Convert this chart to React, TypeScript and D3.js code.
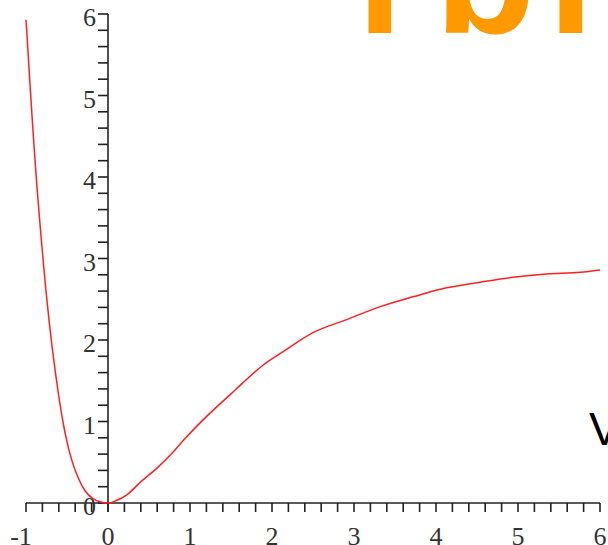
import React, { useEffect, useRef } from 'react';
import * as d3 from 'd3';

// curve points
const rValues = [-1.0, -0.97, -0.95, -0.93, -0.9, -0.87, -0.84, -0.8, -0.76, -0.72, -0.68, -0.64, -0.6, -0.55, -0.5, -0.44, -0.36, -0.28, -0.18, -0.08, 0, 0.1, 0.23, 0.39, 0.61, 0.78, 0.92, 1.2, 1.49, 1.65, 1.89, 2.14, 2.5, 2.91, 3.32, 3.72, 4.13, 4.54, 4.94, 5.35, 5.76, 6.0];
const vValues = [5.93, 5.45, 5.12, 4.8, 4.35, 3.93, 3.55, 3.08, 2.64, 2.25, 1.9, 1.59, 1.31, 1.0, 0.75, 0.52, 0.3, 0.15, 0.05, 0.01, 0, 0.03, 0.1, 0.25, 0.44, 0.61, 0.77, 1.06, 1.33, 1.48, 1.69, 1.86, 2.09, 2.25, 2.41, 2.53, 2.64, 2.71, 2.77, 2.81, 2.83, 2.86];
const xTickLabels = [-1, 0, 1, 2, 3, 4, 5, 6];
const yTickLabels = [0, 1, 2, 3, 4, 5, 6];

const App = () => {
  const svgRef = useRef<SVGSVGElement>(null);

  useEffect(() => {
    const width = 608;
    const height = 545;
    const svg = d3.select(svgRef.current);
    svg.selectAll("*").remove();

    const x = d3.scaleLinear().domain([-1, 6]).range([26, 600]);
    const y = d3.scaleLinear().domain([0, 6]).range([503, 14]);

    svg.append("rect").attr("width", width).attr("height", height).attr("fill", "white");

    // title fragments peeking out behind the plot
    const title = svg.append("text")
      .attr("y", 33)
      .style("font-family", "'Liberation Sans', Arial, sans-serif")
      .style("font-weight", "bold")
      .style("font-size", "165px")
      .attr("fill", "#ff9900");
    title.append("tspan").attr("x", 357).text("i");
    title.append("tspan").attr("x", 435).text("b");
    title.append("tspan").attr("x", 548).text("r");

    svg.append("text")
      .attr("x", 589)
      .attr("y", 445)
      .style("font-family", "'Liberation Sans', Arial, sans-serif")
      .style("font-size", "46px")
      .attr("fill", "black")
      .text("V");

    const axisColor = "#222";

    // x axis
    svg.append("line")
      .attr("x1", x(-1)).attr("x2", x(6))
      .attr("y1", y(0)).attr("y2", y(0))
      .attr("stroke", axisColor).attr("stroke-width", 1.6);

    svg.append("g")
      .selectAll("line")
      .data(x.ticks(35))
      .join("line")
      .attr("x1", d => x(d)).attr("x2", d => x(d))
      .attr("y1", y(0)).attr("y2", y(0) + 9)
      .attr("stroke", axisColor).attr("stroke-width", 1.6);

    svg.append("g")
      .selectAll("text")
      .data(xTickLabels)
      .join("text")
      .attr("x", d => x(d) - (d < 0 ? 5 : 0))
      .attr("y", 545)
      .attr("text-anchor", "middle")
      .style("font-family", "'Liberation Serif', 'Times New Roman', serif")
      .style("font-size", "26px")
      .attr("fill", "#333")
      .text(d => d);

    // y axis
    svg.append("line")
      .attr("x1", x(0)).attr("x2", x(0))
      .attr("y1", y(0) + 9).attr("y2", y(6))
      .attr("stroke", axisColor).attr("stroke-width", 1.6);

    svg.append("g")
      .selectAll("line")
      .data(y.ticks(30))
      .join("line")
      .attr("x1", x(0) - 10).attr("x2", x(0))
      .attr("y1", d => y(d)).attr("y2", d => y(d))
      .attr("stroke", axisColor).attr("stroke-width", 1.6);

    svg.append("g")
      .selectAll("text")
      .data(yTickLabels)
      .join("text")
      .attr("x", x(0) - 12)
      .attr("y", d => y(d) + 12)
      .attr("text-anchor", "end")
      .style("font-family", "'Liberation Serif', 'Times New Roman', serif")
      .style("font-size", "26px")
      .attr("fill", "#333")
      .text(d => d);

    // potential curve
    const points = rValues.map((r, i) => [r, vValues[i]] as [number, number]);
    const line = d3.line<[number, number]>()
      .x(d => x(d[0]))
      .y(d => y(d[1]))
      .curve(d3.curveMonotoneX);

    svg.append("path")
      .datum(points)
      .attr("d", line)
      .attr("fill", "none")
      .attr("stroke", "#ff2020")
      .attr("stroke-width", 1.5);
  }, []);

  return (
    <svg
      ref={svgRef}
      width={608}
      height={545}
      style={{ position: "absolute", left: 0, top: 0 }}
    ></svg>
  );
};

export default App;
